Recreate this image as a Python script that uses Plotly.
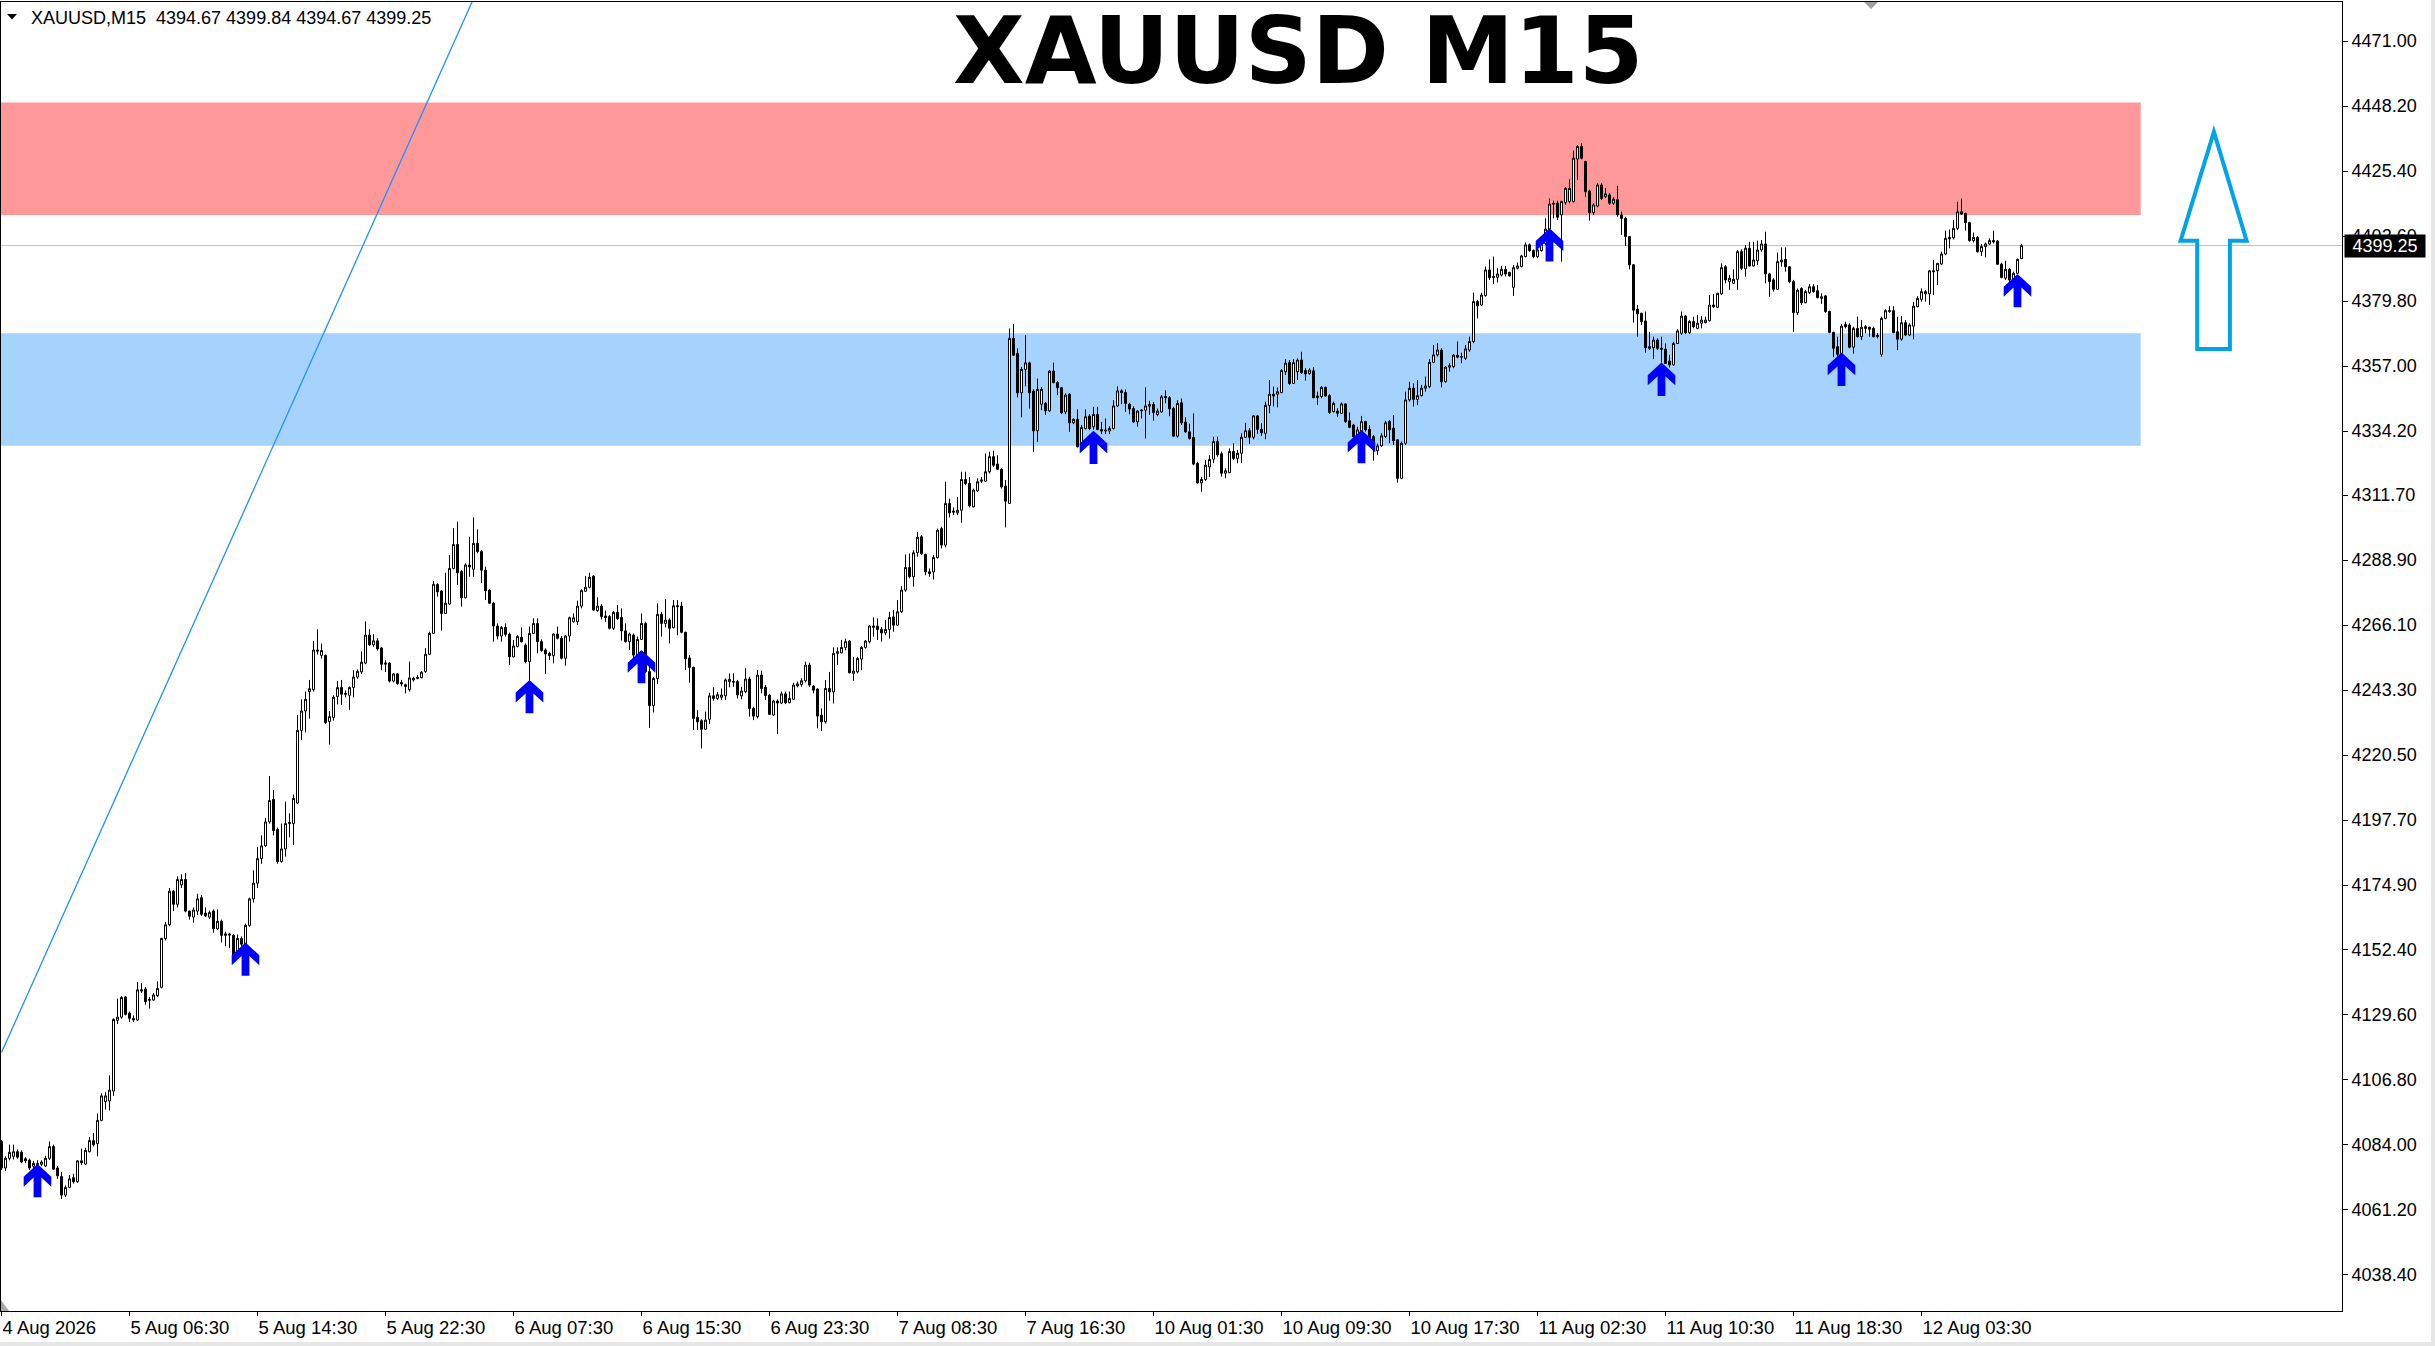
import plotly.graph_objects as go

# ---------------- data ----------------
symbol = "XAUUSD"
timeframe = "M15"

opens = [
    4085.0, 4075.7, 4079.1, 4079.8, 4081.4, 4081.2, 4078.9, 4078.4, 4076.3, 4076.8,
    4077.0, 4076.4, 4079.1, 4083.2, 4075.7, 4072.7, 4066.2, 4068.9, 4072.3, 4070.9,
    4078.2, 4077.1, 4081.4, 4085.3, 4084.2, 4092.4, 4099.0, 4099.2, 4102.7, 4127.5,
    4128.6, 4135.7, 4130.0, 4128.2, 4127.6, 4138.2, 4138.5, 4134.5, 4134.6, 4136.1,
    4139.1, 4156.2, 4161.0, 4172.8, 4168.2, 4175.0, 4176.9, 4165.8, 4163.7, 4165.8,
    4170.5, 4165.1, 4163.7, 4165.8, 4159.6, 4162.2, 4157.3, 4157.8, 4157.3, 4151.4,
    4156.2, 4154.2, 4160.8, 4170.1, 4175.6, 4184.2, 4188.7, 4197.1, 4205.0, 4194.4,
    4183.2, 4187.6, 4196.5, 4196.5, 4203.7, 4229.2, 4236.0, 4242.8, 4243.5, 4257.4,
    4255.5, 4255.5, 4232.3, 4233.7, 4241.1, 4244.2, 4242.2, 4241.5, 4244.2, 4247.9,
    4249.7, 4252.8, 4262.6, 4259.2, 4260.6, 4258.1, 4252.4, 4252.8, 4246.5, 4249.0,
    4246.0, 4245.2, 4243.5, 4246.9, 4247.4, 4247.7, 4249.8, 4255.9, 4263.2, 4280.4,
    4278.1, 4270.2, 4273.5, 4286.0, 4294.4, 4284.9, 4275.7, 4287.2, 4285.7, 4294.8,
    4291.9, 4285.4, 4278.4, 4273.8, 4265.8, 4262.3, 4265.3, 4262.9, 4255.0, 4258.6,
    4261.8, 4259.1, 4253.3, 4263.2, 4266.7, 4260.3, 4257.4, 4256.2, 4255.4, 4263.0,
    4261.5, 4254.5, 4262.3, 4267.3, 4267.3, 4272.8, 4278.0, 4279.4, 4283.3, 4271.2,
    4272.8, 4269.3, 4269.1, 4265.0, 4270.6, 4268.8, 4264.1, 4260.3, 4262.6, 4255.6,
    4261.1, 4266.7, 4249.8, 4237.9, 4247.4, 4269.9, 4266.7, 4267.9, 4265.2, 4272.9,
    4272.8, 4263.6, 4254.6, 4251.3, 4233.8, 4232.6, 4229.6, 4233.1, 4241.3, 4240.4,
    4240.8, 4241.3, 4246.3, 4246.1, 4246.3, 4241.3, 4242.8, 4247.2, 4236.9, 4234.0,
    4248.6, 4244.3, 4241.6, 4234.6, 4239.5, 4238.8, 4242.0, 4238.9, 4240.1, 4244.8,
    4245.3, 4246.6, 4252.1, 4244.7, 4243.7, 4234.5, 4232.2, 4243.9, 4242.7, 4256.2,
    4256.4, 4258.3, 4260.5, 4249.2, 4249.7, 4254.2, 4258.3, 4260.3, 4265.3, 4265.8,
    4264.6, 4263.4, 4264.6, 4269.0, 4266.1, 4270.8, 4278.4, 4286.3, 4283.1, 4291.5,
    4297.1, 4290.9, 4284.8, 4284.8, 4289.8, 4300.0, 4294.2, 4308.8, 4305.7, 4305.5,
    4306.4, 4317.2, 4315.8, 4307.6, 4313.2, 4316.6, 4316.6, 4319.9, 4325.2, 4322.6,
    4320.7, 4314.9, 4308.8, 4366.7, 4361.4, 4347.6, 4355.8, 4358.1, 4348.2, 4334.3,
    4343.6, 4343.9, 4341.3, 4355.2, 4351.2, 4349.4, 4340.9, 4347.1, 4337.1, 4338.3,
    4328.7, 4335.1, 4339.4, 4335.7, 4340.0, 4334.7, 4334.2, 4334.2, 4335.1, 4343.0,
    4348.3, 4347.7, 4343.6, 4342.1, 4337.4, 4341.3, 4341.5, 4342.9, 4343.5, 4340.0,
    4340.9, 4346.3, 4345.9, 4342.1, 4332.4, 4344.1, 4337.3, 4333.9, 4331.9, 4322.8,
    4316.0, 4317.2, 4321.6, 4324.3, 4330.5, 4326.2, 4319.4, 4319.6, 4327.0, 4324.6,
    4326.4, 4332.0, 4334.3, 4332.0, 4339.5, 4334.8, 4333.4, 4343.2, 4347.1, 4347.1,
    4347.7, 4355.0, 4358.2, 4350.9, 4355.0, 4359.1, 4355.4, 4354.4, 4355.3, 4346.5,
    4346.3, 4349.5, 4346.6, 4341.0, 4341.2, 4340.4, 4343.7, 4337.8, 4336.3, 4332.8,
    4334.0, 4337.5, 4334.8, 4332.2, 4327.3, 4329.0, 4332.2, 4337.5, 4335.2, 4331.1,
    4317.6, 4329.9, 4345.1, 4349.2, 4345.3, 4346.6, 4349.2, 4349.8, 4358.3, 4360.9,
    4362.6, 4351.5, 4356.6, 4356.8, 4360.8, 4360.1, 4359.7, 4362.6, 4365.6, 4379.6,
    4378.4, 4381.7, 4390.7, 4388.0, 4388.1, 4388.9, 4390.9, 4389.8, 4384.6, 4391.3,
    4391.9, 4395.4, 4399.5, 4397.5, 4395.4, 4397.5, 4400.0, 4405.0, 4414.1, 4414.1,
    4410.0, 4414.3, 4414.7, 4414.7, 4429.6, 4434.0, 4428.7, 4418.4, 4410.8, 4413.1,
    4420.5, 4416.4, 4417.0, 4414.1, 4415.3, 4410.0, 4408.8, 4402.4, 4392.5, 4376.9,
    4375.5, 4372.8, 4363.8, 4363.4, 4366.1, 4363.2, 4362.9, 4358.7, 4357.4, 4364.9,
    4368.5, 4374.5, 4368.7, 4372.6, 4370.2, 4372.0, 4372.2, 4372.9, 4378.4, 4377.6,
    4382.3, 4391.8, 4386.6, 4386.0, 4387.4, 4397.1, 4391.1, 4398.3, 4392.1, 4393.9,
    4397.7, 4399.8, 4389.3, 4387.2, 4383.9, 4393.5, 4394.4, 4391.8, 4386.6, 4375.7,
    4384.2, 4379.2, 4382.7, 4384.8, 4383.4, 4380.7, 4381.6, 4376.1, 4368.8, 4363.8,
    4361.4, 4371.6, 4371.4, 4363.6, 4370.2, 4367.3, 4370.8, 4370.6, 4370.2, 4367.3,
    4361.1, 4373.7, 4376.1, 4376.4, 4369.0, 4366.4, 4372.2, 4367.9, 4371.0, 4377.8,
    4380.4, 4382.3, 4382.3, 4390.4, 4390.4, 4392.8, 4396.3, 4401.6, 4402.0, 4405.3,
    4411.1, 4410.5, 4407.3, 4401.0, 4402.1, 4397.1, 4398.9, 4399.8, 4401.0, 4400.8,
    4392.7, 4387.8, 4390.9, 4387.2, 4389.5, 4394.67,
]

highs = [
    4085.5, 4079.8, 4083.9, 4083.9, 4082.2, 4081.9, 4079.5, 4079.0, 4078.2, 4078.4,
    4078.4, 4080.0, 4085.0, 4083.9, 4076.4, 4074.3, 4069.6, 4073.2, 4073.7, 4078.4,
    4082.5, 4082.8, 4086.6, 4088.0, 4094.8, 4101.9, 4102.3, 4108.2, 4128.2, 4135.1,
    4136.0, 4136.0, 4130.6, 4129.2, 4140.9, 4140.5, 4139.2, 4135.7, 4137.1, 4141.2,
    4156.5, 4162.0, 4173.9, 4173.2, 4178.0, 4178.7, 4179.1, 4166.0, 4167.1, 4171.9,
    4171.5, 4167.1, 4166.0, 4166.4, 4166.4, 4162.8, 4158.6, 4158.2, 4157.8, 4157.6,
    4156.9, 4161.4, 4170.5, 4180.1, 4188.3, 4192.4, 4198.5, 4213.2, 4208.3, 4195.1,
    4196.5, 4204.2, 4200.1, 4206.7, 4234.6, 4240.1, 4242.8, 4246.9, 4260.6, 4264.7,
    4259.6, 4255.8, 4236.0, 4241.5, 4246.5, 4246.9, 4243.2, 4244.6, 4250.3, 4250.6,
    4256.9, 4267.4, 4264.7, 4262.9, 4261.5, 4258.5, 4253.8, 4253.1, 4249.3, 4249.3,
    4246.9, 4245.6, 4253.3, 4248.0, 4248.6, 4250.0, 4258.0, 4263.8, 4281.6, 4280.8,
    4278.4, 4284.5, 4290.7, 4300.1, 4302.4, 4285.4, 4287.8, 4297.1, 4303.9, 4299.7,
    4292.5, 4286.6, 4278.7, 4274.3, 4266.7, 4265.8, 4266.7, 4263.5, 4260.9, 4262.6,
    4265.3, 4259.7, 4265.6, 4268.5, 4268.5, 4261.1, 4258.0, 4256.8, 4263.2, 4265.6,
    4262.3, 4262.6, 4269.1, 4270.2, 4274.7, 4278.7, 4283.3, 4284.5, 4283.7, 4275.9,
    4273.5, 4271.2, 4269.7, 4271.1, 4273.2, 4272.0, 4266.7, 4263.5, 4263.2, 4262.1,
    4270.2, 4267.3, 4251.5, 4248.0, 4273.8, 4270.8, 4275.2, 4268.5, 4274.9, 4274.9,
    4274.3, 4263.8, 4255.6, 4251.5, 4236.3, 4233.1, 4235.8, 4242.4, 4244.3, 4242.7,
    4243.9, 4247.4, 4249.2, 4249.2, 4246.9, 4244.5, 4251.0, 4248.0, 4237.5, 4250.4,
    4250.1, 4245.1, 4242.0, 4239.9, 4240.1, 4242.8, 4242.8, 4242.8, 4245.9, 4246.3,
    4247.5, 4253.3, 4252.9, 4245.1, 4243.9, 4236.9, 4246.8, 4249.7, 4258.3, 4258.3,
    4260.9, 4261.4, 4260.9, 4255.0, 4255.0, 4258.7, 4260.9, 4266.1, 4268.8, 4268.5,
    4265.5, 4267.9, 4270.8, 4271.4, 4274.9, 4279.8, 4290.9, 4291.2, 4292.4, 4298.8,
    4297.7, 4291.2, 4286.0, 4290.7, 4300.0, 4300.6, 4316.4, 4310.5, 4307.4, 4311.1,
    4319.9, 4319.9, 4318.1, 4314.0, 4317.6, 4318.1, 4326.3, 4326.9, 4327.3, 4325.7,
    4321.1, 4317.0, 4370.2, 4371.7, 4363.2, 4356.7, 4367.8, 4358.5, 4348.8, 4352.6,
    4349.7, 4344.4, 4355.6, 4358.2, 4351.8, 4349.7, 4347.4, 4347.4, 4338.6, 4341.8,
    4336.3, 4341.8, 4340.1, 4342.7, 4342.7, 4337.4, 4338.6, 4335.9, 4345.0, 4349.9,
    4348.8, 4348.8, 4344.1, 4342.9, 4341.5, 4341.8, 4349.5, 4344.8, 4344.4, 4342.1,
    4346.8, 4348.5, 4346.4, 4342.7, 4345.0, 4345.6, 4339.0, 4336.8, 4340.4, 4323.4,
    4318.1, 4324.0, 4325.7, 4332.2, 4332.2, 4327.0, 4321.1, 4328.1, 4329.9, 4327.6,
    4333.4, 4337.1, 4335.2, 4339.8, 4339.8, 4336.9, 4344.5, 4352.1, 4349.8, 4349.5,
    4355.9, 4359.4, 4359.1, 4359.4, 4359.7, 4362.0, 4356.2, 4356.2, 4356.6, 4348.0,
    4350.0, 4349.8, 4347.1, 4344.5, 4342.2, 4344.2, 4343.9, 4340.7, 4336.7, 4335.7,
    4339.5, 4337.8, 4336.3, 4332.8, 4329.7, 4333.4, 4337.8, 4338.1, 4339.8, 4331.3,
    4330.5, 4348.0, 4351.5, 4350.9, 4352.1, 4350.4, 4353.3, 4359.4, 4364.4, 4365.0,
    4363.2, 4357.0, 4358.0, 4361.2, 4365.6, 4361.7, 4364.4, 4367.3, 4382.7, 4380.2,
    4382.7, 4391.9, 4394.4, 4395.4, 4391.3, 4392.1, 4392.1, 4390.1, 4392.4, 4393.3,
    4396.0, 4400.3, 4400.0, 4397.9, 4398.9, 4401.5, 4408.8, 4415.8, 4415.0, 4415.0,
    4415.0, 4419.7, 4422.5, 4432.6, 4434.5, 4435.1, 4429.0, 4418.8, 4414.1, 4421.1,
    4421.1, 4419.4, 4417.6, 4416.2, 4420.2, 4411.2, 4409.4, 4402.6, 4392.8, 4378.4,
    4375.7, 4376.1, 4369.0, 4367.3, 4366.7, 4367.3, 4364.9, 4360.9, 4365.5, 4369.9,
    4376.1, 4374.9, 4373.1, 4374.3, 4374.9, 4374.5, 4374.3, 4381.9, 4382.3, 4382.7,
    4393.0, 4392.4, 4388.9, 4390.9, 4397.7, 4397.9, 4399.4, 4400.6, 4400.6, 4401.0,
    4401.2, 4404.1, 4389.7, 4387.8, 4396.8, 4398.6, 4398.6, 4392.1, 4387.2, 4384.2,
    4384.6, 4383.7, 4385.7, 4385.7, 4385.4, 4382.5, 4381.9, 4376.4, 4369.0, 4367.3,
    4371.7, 4372.5, 4372.0, 4370.8, 4374.3, 4373.1, 4371.4, 4370.8, 4370.8, 4368.5,
    4374.3, 4376.9, 4378.0, 4378.0, 4374.3, 4374.5, 4373.1, 4372.0, 4379.5, 4381.5,
    4384.2, 4383.7, 4390.7, 4394.2, 4393.2, 4397.1, 4404.5, 4404.9, 4408.2, 4414.6,
    4415.8, 4410.8, 4407.6, 4403.8, 4402.6, 4399.8, 4400.3, 4401.8, 4404.5, 4401.2,
    4393.2, 4393.9, 4391.3, 4390.1, 4394.7, 4399.84,
]

lows = [
    4075.0, 4074.6, 4078.4, 4078.7, 4079.0, 4077.4, 4077.4, 4075.0, 4075.4, 4076.3,
    4076.3, 4076.0, 4078.5, 4075.0, 4071.9, 4064.8, 4065.5, 4068.6, 4070.2, 4070.5,
    4076.8, 4076.8, 4081.2, 4083.2, 4079.8, 4092.1, 4096.2, 4095.9, 4101.0, 4126.2,
    4128.0, 4129.2, 4126.9, 4126.9, 4127.3, 4137.1, 4133.0, 4131.6, 4134.4, 4135.7,
    4138.7, 4155.5, 4160.5, 4165.8, 4167.1, 4173.9, 4165.4, 4162.8, 4161.7, 4164.4,
    4164.1, 4163.7, 4163.0, 4158.2, 4159.2, 4154.8, 4153.5, 4152.8, 4150.1, 4150.8,
    4153.5, 4153.8, 4160.3, 4168.8, 4173.9, 4182.4, 4188.3, 4196.5, 4192.4, 4182.4,
    4182.8, 4184.9, 4191.7, 4189.0, 4203.3, 4225.8, 4228.5, 4233.3, 4242.8, 4255.8,
    4254.4, 4231.5, 4224.2, 4232.6, 4238.3, 4238.1, 4240.8, 4236.4, 4240.8, 4247.3,
    4249.0, 4252.4, 4258.8, 4258.5, 4257.2, 4250.3, 4249.7, 4246.0, 4246.0, 4245.2,
    4244.6, 4242.2, 4242.8, 4246.3, 4247.1, 4247.4, 4249.4, 4255.6, 4263.0, 4276.1,
    4264.2, 4270.0, 4273.2, 4285.7, 4280.2, 4272.6, 4275.5, 4283.1, 4283.1, 4291.3,
    4280.8, 4274.9, 4273.5, 4260.3, 4261.1, 4260.3, 4262.1, 4252.1, 4254.8, 4258.3,
    4260.0, 4252.7, 4246.6, 4263.0, 4256.2, 4256.8, 4249.0, 4253.9, 4252.7, 4261.1,
    4254.1, 4251.9, 4260.3, 4267.0, 4266.2, 4272.0, 4277.8, 4279.0, 4271.2, 4270.8,
    4268.1, 4267.3, 4264.6, 4264.4, 4267.9, 4260.7, 4260.0, 4257.4, 4253.9, 4255.0,
    4260.9, 4249.4, 4230.1, 4235.5, 4245.5, 4262.1, 4265.3, 4259.7, 4265.0, 4262.6,
    4263.2, 4250.4, 4245.9, 4229.3, 4229.3, 4222.9, 4229.3, 4231.4, 4239.6, 4239.9,
    4239.9, 4239.9, 4244.3, 4244.5, 4240.4, 4240.1, 4242.2, 4234.0, 4232.8, 4233.4,
    4242.2, 4239.9, 4234.6, 4234.2, 4227.9, 4238.4, 4238.4, 4238.7, 4239.9, 4244.3,
    4244.5, 4246.0, 4244.5, 4242.2, 4229.9, 4229.0, 4231.6, 4239.6, 4238.6, 4252.1,
    4256.2, 4257.3, 4249.2, 4246.6, 4249.2, 4250.3, 4257.9, 4259.7, 4262.0, 4260.9,
    4260.3, 4262.6, 4261.4, 4263.8, 4265.8, 4270.4, 4277.8, 4282.5, 4279.6, 4290.1,
    4290.7, 4283.6, 4283.1, 4282.1, 4289.5, 4293.0, 4293.4, 4303.9, 4304.7, 4304.7,
    4302.0, 4315.2, 4307.4, 4307.4, 4312.9, 4316.0, 4316.4, 4319.3, 4321.6, 4320.5,
    4314.0, 4300.4, 4308.6, 4360.5, 4346.0, 4339.0, 4349.9, 4342.1, 4326.9, 4330.4,
    4341.5, 4339.8, 4340.9, 4350.9, 4346.8, 4340.1, 4340.1, 4333.9, 4336.6, 4328.4,
    4328.4, 4334.7, 4334.5, 4334.7, 4334.5, 4333.1, 4333.1, 4333.1, 4334.7, 4342.7,
    4343.6, 4340.9, 4340.1, 4337.1, 4335.7, 4338.6, 4331.6, 4339.8, 4337.8, 4339.4,
    4340.6, 4343.9, 4339.4, 4332.2, 4331.9, 4336.3, 4333.6, 4331.2, 4322.2, 4315.8,
    4312.9, 4316.7, 4318.1, 4322.9, 4325.2, 4318.2, 4317.6, 4319.4, 4324.1, 4322.9,
    4322.9, 4331.7, 4329.7, 4331.3, 4333.2, 4332.5, 4331.3, 4340.4, 4342.8, 4342.5,
    4347.4, 4353.9, 4350.4, 4350.7, 4352.1, 4354.2, 4351.9, 4353.9, 4345.7, 4343.3,
    4345.7, 4346.3, 4340.2, 4340.7, 4339.2, 4340.2, 4337.1, 4335.2, 4331.7, 4332.2,
    4333.2, 4334.0, 4331.1, 4323.8, 4325.8, 4328.7, 4331.7, 4329.9, 4329.3, 4316.1,
    4317.3, 4329.3, 4344.5, 4342.8, 4343.3, 4346.3, 4348.0, 4349.2, 4358.0, 4360.3,
    4349.5, 4351.2, 4355.0, 4356.2, 4359.7, 4358.0, 4359.1, 4362.0, 4365.0, 4373.7,
    4378.1, 4381.3, 4387.2, 4385.8, 4386.3, 4388.4, 4388.4, 4388.4, 4381.6, 4390.9,
    4391.6, 4395.1, 4397.1, 4394.8, 4394.8, 4397.1, 4399.5, 4404.7, 4408.8, 4408.2,
    4393.6, 4413.5, 4414.1, 4414.3, 4422.3, 4429.5, 4416.4, 4408.0, 4410.0, 4412.7,
    4415.2, 4415.9, 4413.5, 4413.5, 4409.4, 4403.0, 4399.1, 4390.9, 4372.2, 4367.3,
    4371.4, 4361.7, 4362.6, 4359.4, 4362.6, 4358.2, 4357.7, 4356.5, 4357.0, 4364.7,
    4367.9, 4368.2, 4368.2, 4370.2, 4369.9, 4370.2, 4372.0, 4372.6, 4377.3, 4377.3,
    4381.9, 4386.0, 4383.7, 4385.8, 4383.7, 4390.7, 4388.3, 4391.9, 4391.9, 4392.4,
    4397.1, 4386.0, 4381.3, 4383.1, 4383.7, 4391.8, 4390.1, 4386.0, 4369.0, 4374.9,
    4378.4, 4379.0, 4382.2, 4382.7, 4380.7, 4378.8, 4375.7, 4368.5, 4360.1, 4360.1,
    4361.1, 4370.2, 4363.2, 4361.3, 4367.0, 4366.1, 4368.5, 4367.3, 4367.0, 4366.7,
    4360.3, 4373.4, 4375.7, 4368.5, 4362.6, 4365.9, 4367.5, 4367.5, 4366.4, 4377.6,
    4379.6, 4379.6, 4378.4, 4381.9, 4385.4, 4392.4, 4395.9, 4398.3, 4401.4, 4404.7,
    4410.0, 4404.5, 4400.6, 4400.3, 4396.8, 4395.6, 4395.1, 4399.5, 4400.0, 4392.4,
    4387.8, 4387.2, 4385.4, 4386.6, 4389.3, 4394.67,
]

closes = [
    4075.7, 4079.1, 4081.2, 4081.4, 4079.5, 4077.8, 4078.2, 4075.7, 4077.3, 4077.3,
    4077.8, 4079.1, 4083.2, 4075.3, 4073.0, 4066.2, 4068.9, 4071.9, 4070.9, 4078.2,
    4077.6, 4081.9, 4085.3, 4083.9, 4092.4, 4101.0, 4101.0, 4103.0, 4127.8, 4128.6,
    4135.5, 4129.6, 4128.2, 4127.6, 4138.2, 4137.8, 4134.1, 4134.8, 4136.4, 4138.7,
    4156.2, 4161.0, 4172.8, 4168.2, 4176.9, 4176.9, 4165.8, 4164.0, 4166.2, 4170.1,
    4164.7, 4164.1, 4165.3, 4159.6, 4162.2, 4157.3, 4157.8, 4157.4, 4150.5, 4156.2,
    4154.2, 4160.8, 4170.1, 4175.6, 4184.2, 4188.7, 4197.1, 4204.6, 4194.1, 4183.2,
    4187.6, 4196.5, 4196.9, 4205.3, 4229.2, 4236.0, 4240.1, 4243.8, 4257.4, 4257.0,
    4257.2, 4231.9, 4234.0, 4240.8, 4244.2, 4241.9, 4241.9, 4244.2, 4247.9, 4249.9,
    4253.1, 4262.6, 4259.2, 4260.6, 4257.8, 4252.4, 4252.8, 4246.5, 4249.0, 4245.6,
    4245.5, 4244.6, 4247.6, 4247.4, 4247.8, 4249.6, 4255.9, 4263.2, 4280.4, 4277.8,
    4270.2, 4273.8, 4286.0, 4294.4, 4284.5, 4275.7, 4287.2, 4286.5, 4294.8, 4291.9,
    4285.4, 4278.2, 4273.8, 4265.8, 4262.3, 4265.3, 4262.9, 4255.0, 4258.8, 4262.1,
    4260.3, 4253.3, 4263.2, 4266.7, 4260.3, 4257.2, 4256.0, 4255.4, 4263.0, 4261.5,
    4254.5, 4262.3, 4268.7, 4268.7, 4272.8, 4278.2, 4279.4, 4282.9, 4271.4, 4272.8,
    4269.1, 4268.8, 4265.0, 4270.6, 4268.4, 4264.1, 4260.3, 4263.0, 4255.6, 4261.1,
    4266.7, 4249.8, 4237.9, 4247.4, 4269.9, 4266.7, 4267.9, 4265.0, 4272.9, 4272.6,
    4263.6, 4254.3, 4251.3, 4233.4, 4232.2, 4229.6, 4232.8, 4241.3, 4240.4, 4241.7,
    4241.6, 4246.9, 4247.1, 4246.3, 4241.6, 4243.0, 4247.2, 4236.9, 4234.2, 4248.6,
    4243.9, 4241.4, 4234.8, 4239.5, 4238.8, 4242.0, 4238.9, 4240.4, 4245.1, 4245.5,
    4246.6, 4252.1, 4245.1, 4243.3, 4234.2, 4232.2, 4243.9, 4242.7, 4256.2, 4256.8,
    4258.3, 4260.3, 4249.4, 4250.0, 4254.4, 4258.3, 4260.5, 4265.8, 4265.8, 4264.6,
    4263.4, 4264.6, 4268.8, 4266.1, 4270.8, 4278.4, 4286.3, 4283.1, 4291.5, 4296.9,
    4291.2, 4284.8, 4284.2, 4289.8, 4299.4, 4294.2, 4308.8, 4305.5, 4306.1, 4306.4,
    4317.2, 4315.8, 4307.9, 4313.5, 4316.4, 4317.0, 4319.9, 4325.2, 4322.2, 4320.8,
    4314.6, 4309.6, 4366.7, 4360.8, 4347.6, 4355.8, 4358.1, 4347.6, 4334.3, 4348.8,
    4348.8, 4341.3, 4355.2, 4351.2, 4349.4, 4340.6, 4346.8, 4337.1, 4338.3, 4328.7,
    4335.4, 4339.2, 4335.1, 4340.0, 4334.7, 4334.2, 4334.5, 4335.1, 4343.0, 4348.3,
    4347.7, 4343.9, 4341.9, 4337.4, 4341.2, 4341.5, 4343.0, 4343.5, 4340.7, 4341.2,
    4346.2, 4345.9, 4342.0, 4332.4, 4343.9, 4337.1, 4333.9, 4331.6, 4322.6, 4316.0,
    4317.2, 4322.2, 4324.2, 4330.5, 4325.8, 4319.4, 4320.3, 4327.0, 4324.6, 4326.4,
    4332.0, 4334.3, 4332.0, 4339.5, 4334.8, 4333.6, 4343.2, 4347.1, 4346.5, 4348.0,
    4355.4, 4358.0, 4350.9, 4358.2, 4359.1, 4354.7, 4354.2, 4355.6, 4345.9, 4345.9,
    4349.5, 4346.5, 4340.7, 4343.9, 4340.4, 4343.7, 4337.5, 4335.5, 4332.2, 4334.6,
    4337.5, 4334.6, 4331.7, 4327.6, 4329.0, 4332.5, 4337.1, 4334.6, 4330.8, 4317.6,
    4329.9, 4345.1, 4349.2, 4345.3, 4346.6, 4349.2, 4350.0, 4358.3, 4360.9, 4362.6,
    4351.5, 4356.6, 4357.1, 4360.8, 4360.1, 4360.3, 4363.0, 4365.6, 4379.6, 4378.1,
    4381.9, 4390.7, 4388.0, 4388.4, 4389.3, 4390.9, 4389.3, 4388.6, 4391.5, 4392.1,
    4395.6, 4399.5, 4397.5, 4395.4, 4397.7, 4400.3, 4405.0, 4413.8, 4413.8, 4409.2,
    4414.7, 4419.3, 4419.3, 4429.9, 4434.0, 4429.9, 4418.2, 4410.8, 4413.5, 4420.5,
    4415.8, 4417.4, 4414.1, 4415.5, 4410.0, 4408.8, 4402.4, 4392.5, 4376.6, 4375.3,
    4372.6, 4363.4, 4363.2, 4366.1, 4363.2, 4362.9, 4357.9, 4357.4, 4364.9, 4369.3,
    4374.5, 4368.7, 4372.6, 4370.8, 4372.0, 4373.1, 4373.1, 4378.4, 4377.8, 4382.5,
    4391.5, 4387.2, 4387.8, 4387.4, 4397.1, 4391.3, 4398.3, 4392.1, 4394.2, 4397.7,
    4399.8, 4389.3, 4386.6, 4383.9, 4393.6, 4394.2, 4391.8, 4386.6, 4375.7, 4383.6,
    4379.2, 4383.1, 4384.8, 4383.1, 4381.0, 4381.3, 4376.1, 4368.8, 4363.2, 4361.1,
    4371.0, 4370.8, 4363.6, 4370.2, 4367.3, 4370.6, 4370.2, 4369.9, 4367.3, 4367.7,
    4373.7, 4376.4, 4376.4, 4368.7, 4366.4, 4372.2, 4367.9, 4371.4, 4378.0, 4380.7,
    4383.1, 4383.1, 4390.4, 4390.1, 4393.0, 4396.3, 4401.8, 4402.1, 4405.3, 4411.1,
    4410.3, 4407.3, 4401.0, 4402.1, 4397.1, 4398.9, 4399.8, 4401.0, 4400.6, 4392.7,
    4388.1, 4390.9, 4387.2, 4389.5, 4394.4, 4399.25,
]

time_labels = [
    "4 Aug 2026", "5 Aug 06:30", "5 Aug 14:30", "5 Aug 22:30", "6 Aug 07:30",
    "6 Aug 15:30", "6 Aug 23:30", "7 Aug 08:30", "7 Aug 16:30", "10 Aug 01:30",
    "10 Aug 09:30", "10 Aug 17:30", "11 Aug 02:30", "11 Aug 10:30", "11 Aug 18:30",
    "12 Aug 03:30",
]
bars_per_label = 32

price_ticks = [4471.00, 4448.20, 4425.40, 4402.60, 4379.80, 4357.00, 4334.20,
               4311.70, 4288.90, 4266.10, 4243.30, 4220.50, 4197.70, 4174.90,
               4152.40, 4129.60, 4106.80, 4084.00, 4061.20, 4038.40]

# buy-signal arrows (bar index, price at arrow tip)
signal_bars = [9, 61, 132, 160, 273, 340, 387, 415, 460, 504]
signal_prices = [4077.1, 4154.8, 4246.9, 4257.4, 4334.3, 4334.6, 4405.3, 4358.2, 4361.7, 4389.3]

# zones (price bottom, price top) and the bar where they end
resistance_zone = [4410.0, 4449.4]
support_zone = [4329.0, 4368.5]
zone_end_bar = 534.8

# trend line anchor points
trend_bars = [0, 120]
trend_prices = [4116.2, 4492.1]

# big outlined "up" arrow object: tip anchor
big_arrow_bar = 553.1
big_arrow_price = 4439.1

bid_price = closes[-1]

# ---------------- figure ----------------
W, H = 2435, 1346
ML, MR, MT, MB = 1, 93, 2, 35
PW, PH = W - ML - MR, H - MT - MB


def px_to_paper_x(px):
    return (px - ML) / PW


def py_to_paper_y(py):
    return (H - MB - py) / PH


n = len(closes)
xs = list(range(n))

fig = go.Figure()

fig.add_trace(go.Candlestick(
    x=xs, open=opens, high=highs, low=lows, close=closes,
    increasing=dict(line=dict(color="black", width=1), fillcolor="white"),
    decreasing=dict(line=dict(color="black", width=1), fillcolor="black"),
    whiskerwidth=0, hoverinfo="skip", showlegend=False,
))

fig.add_trace(go.Scatter(
    x=trend_bars, y=trend_prices, mode="lines",
    line=dict(color="#1E90FF", width=1.3), hoverinfo="skip", showlegend=False,
))

shapes = []
# zones
shapes.append(dict(type="rect", xref="x", yref="y", x0=-5, x1=zone_end_bar,
                   y0=resistance_zone[0], y1=resistance_zone[1],
                   fillcolor="#FF9999", line=dict(width=0), layer="below"))
shapes.append(dict(type="rect", xref="x", yref="y", x0=-5, x1=zone_end_bar,
                   y0=support_zone[0], y1=support_zone[1],
                   fillcolor="#A6D2FE", line=dict(width=0), layer="below"))
# bid line
shapes.append(dict(type="line", xref="paper", yref="y", x0=0, x1=1,
                   y0=bid_price, y1=bid_price,
                   line=dict(color="#C0C0C0", width=1), layer="below"))

# small signal arrows (pixel-sized, anchored on data)
arrow_path = ("M 0 0 L 13.8 -12.7 L 13.8 -22.7 L 3.9 -13.6 L 3.9 -33.3 "
              "L -3.9 -33.3 L -3.9 -13.6 L -13.8 -22.7 L -13.8 -12.7 Z")
for b, p in zip(signal_bars, signal_prices):
    shapes.append(dict(type="path", xref="x", yref="y",
                       xsizemode="pixel", ysizemode="pixel",
                       xanchor=b, yanchor=p, path=arrow_path,
                       fillcolor="#0000FF", line=dict(width=0)))

# big outlined arrow
big_path = ("M 0 0 L 32.7 -108.7 L 16 -108.7 L 16 -217 L -16.7 -217 "
            "L -16.7 -108.7 L -33.3 -108.7 Z")
shapes.append(dict(type="path", xref="x", yref="y",
                   xsizemode="pixel", ysizemode="pixel",
                   xanchor=big_arrow_bar, yanchor=big_arrow_price, path=big_path,
                   fillcolor="rgba(0,0,0,0)", line=dict(color="#00A2E8", width=4)))

# header triangle
shapes.append(dict(type="path", xref="paper", yref="paper",
                   xsizemode="pixel", ysizemode="pixel", xanchor=0, yanchor=1,
                   path="M 6 -12 L 16 -12 L 11 -17.5 Z",
                   fillcolor="black", line=dict(width=0)))
# chart-shift marker at top
shapes.append(dict(type="path", xref="paper", yref="paper",
                   xsizemode="pixel", ysizemode="pixel",
                   xanchor=px_to_paper_x(1871), yanchor=1,
                   path="M -7 0 L 7 0 L 0 -7 Z",
                   fillcolor="#A0A0A0", line=dict(width=0)))
# scale-fix marker at bottom-left
shapes.append(dict(type="path", xref="paper", yref="paper",
                   xsizemode="pixel", ysizemode="pixel", xanchor=0, yanchor=0,
                   path="M 0 0 L 0 11 L 8 0 Z",
                   fillcolor="#A8A8A8", line=dict(width=0)))
# window frame strips (right and bottom edges)
shapes.append(dict(type="rect", xref="paper", yref="paper",
                   x0=px_to_paper_x(2431), x1=px_to_paper_x(2436),
                   y0=py_to_paper_y(1347), y1=py_to_paper_y(-1),
                   fillcolor="#E6E6E6", line=dict(width=0)))
shapes.append(dict(type="rect", xref="paper", yref="paper",
                   x0=px_to_paper_x(-1), x1=px_to_paper_x(2436),
                   y0=py_to_paper_y(1347), y1=py_to_paper_y(1342),
                   fillcolor="#E6E6E6", line=dict(width=0)))

annotations = []
header = "%s,%s  %.2f %.2f %.2f %.2f" % (symbol, timeframe, opens[-1], highs[-1], lows[-1], closes[-1])
annotations.append(dict(text=header, xref="paper", yref="paper",
                        x=px_to_paper_x(28.7), y=py_to_paper_y(18.3),
                        xanchor="left", yanchor="middle", showarrow=False,
                        font=dict(family="Liberation Sans", size=18, color="black")))
annotations.append(dict(text="<b>%s %s</b>" % (symbol, timeframe), xref="paper", yref="paper",
                        x=px_to_paper_x(1298), y=py_to_paper_y(51.5),
                        xanchor="center", yanchor="middle", showarrow=False,
                        font=dict(family="DejaVu Sans", size=93, color="black")))
annotations.append(dict(text="%.2f" % bid_price, xref="paper", yref="y",
                        x=px_to_paper_x(2344), y=bid_price,
                        xanchor="left", yanchor="middle", showarrow=False,
                        width=78, height=20, borderpad=1, align="center",
                        bgcolor="black",
                        font=dict(family="Liberation Sans", size=18, color="white")))

fig.update_layout(
    width=W, height=H,
    margin=dict(l=ML, r=MR, t=MT, b=MB, pad=0, autoexpand=False),
    paper_bgcolor="white", plot_bgcolor="white",
    showlegend=False, hovermode=False,
    boxgap=0.5, boxgroupgap=0,
    shapes=shapes, annotations=annotations,
    xaxis=dict(
        range=[-0.125, 585.125], rangeslider=dict(visible=False),
        tickvals=[k * bars_per_label for k in range(len(time_labels))],
        ticktext=time_labels, ticks="outside", ticklen=4, tickcolor="black",
        ticklabelposition="outside right",
        tickfont=dict(family="Liberation Sans", size=18.5, color="black"),
        showgrid=False, zeroline=False, showline=True, linecolor="black",
        linewidth=1, mirror=True, fixedrange=True, automargin=False,
    ),
    yaxis=dict(
        range=[4025.54, 4484.68], side="right",
        tickvals=price_ticks, ticktext=["%.2f" % v for v in price_ticks],
        ticks="outside", ticklen=5, tickcolor="black",
        tickfont=dict(family="Liberation Sans", size=18, color="black"),
        showgrid=False, zeroline=False, showline=True, linecolor="black",
        linewidth=1, mirror=True, fixedrange=True, automargin=False,
    ),
)

fig.write_html(
    "out.html",
    config={"displayModeBar": False, "staticPlot": True},
    post_script="document.body.style.margin='0';document.body.style.overflow='hidden';",
)
